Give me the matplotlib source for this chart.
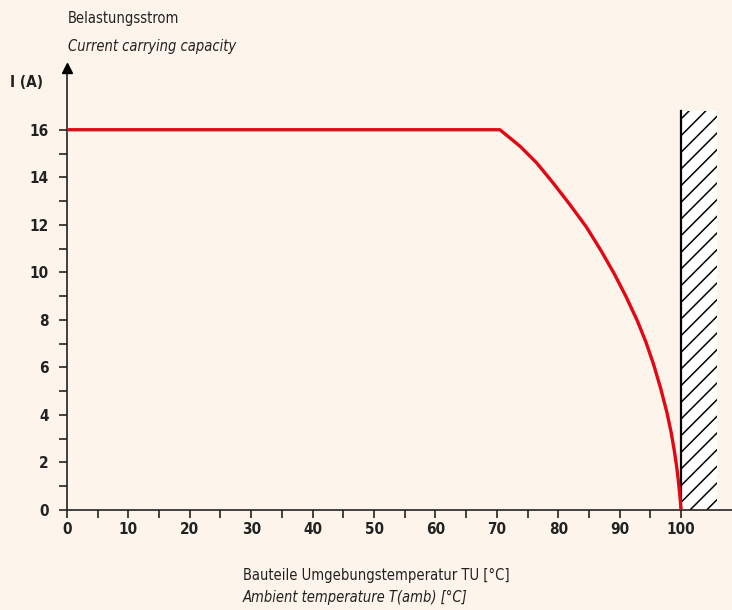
import matplotlib.pyplot as plt
from matplotlib.patches import Rectangle

# derating curve
temp = [0, 70.5, 73.8, 76.5, 79.2, 81.9, 84.6, 87.0, 89.1, 91.0, 92.9, 94.3, 95.5,
        96.7, 97.7, 98.4, 98.9, 99.3, 99.6, 99.85, 100]
current = [16, 16, 15.3, 14.6, 13.75, 12.85, 11.9, 10.9, 9.95, 9.0, 7.95, 7.05, 6.15,
           5.1, 4.1, 3.25, 2.5, 1.8, 1.15, 0.5, 0]

x_major = [0, 10, 20, 30, 40, 50, 60, 70, 80, 90, 100]
y_major = [0, 2, 4, 6, 8, 10, 12, 14, 16]

bg = '#FDF5EB'
dark = '#222222'
red = '#E30613'

plt.rcParams['font.family'] = ['DejaVu Sans']
plt.rcParams['font.stretch'] = 'condensed'
plt.rcParams['hatch.linewidth'] = 1.1

fig = plt.figure(figsize=(7.32, 6.10), dpi=100, facecolor=bg)
ax = fig.add_axes([0.0915, 0.164, 0.9085, 0.7246], facecolor=bg)

ax.set_xlim(0, 108.3)
ax.set_ylim(0, 18.6)

# hatched zone above 100 °C
ax.add_patch(Rectangle((100, 0), 5.9, 16.8, facecolor='white', edgecolor='black',
                       hatch='//', linewidth=0, zorder=1))
ax.plot([100, 100], [0, 16.8], color='black', lw=1.6, zorder=2)

ax.plot(temp, current, color=red, lw=2.4, zorder=3, solid_capstyle='butt')

for s in ['top', 'right']:
    ax.spines[s].set_visible(False)
for s in ['left', 'bottom']:
    ax.spines[s].set_color(dark)
    ax.spines[s].set_linewidth(1.2)

ax.plot([0], [18.6], marker='^', color='black', markersize=7, clip_on=False, zorder=5)

ax.set_xticks(x_major)
ax.set_xticks(range(5, 105, 10), minor=True)
ax.set_yticks(y_major)
ax.set_yticks(range(1, 17, 2), minor=True)
ax.tick_params(which='both', direction='out', length=6, width=1.2, color=dark,
               labelsize=11, labelcolor=dark)
ax.tick_params(axis='x', pad=3)
ax.tick_params(axis='y', pad=7)
for lab in ax.get_xticklabels() + ax.get_yticklabels():
    lab.set_fontweight('bold')

fig.text(0.093, 0.970, 'Belastungsstrom', fontsize=10.5, color=dark, va='center')
fig.text(0.093, 0.924, 'Current carrying capacity', fontsize=10.5, color=dark,
         va='center', style='italic')
fig.text(0.014, 0.864, 'I (A)', fontsize=11, color=dark, va='center', fontweight='bold')

fig.text(0.332, 0.057, 'Bauteile Umgebungstemperatur TU [°C]', fontsize=10.5,
         color=dark, va='center')
fig.text(0.332, 0.020, 'Ambient temperature T(amb) [°C]', fontsize=10.5,
         color=dark, va='center', style='italic')

fig.savefig('out.png', dpi=100, facecolor=bg)
